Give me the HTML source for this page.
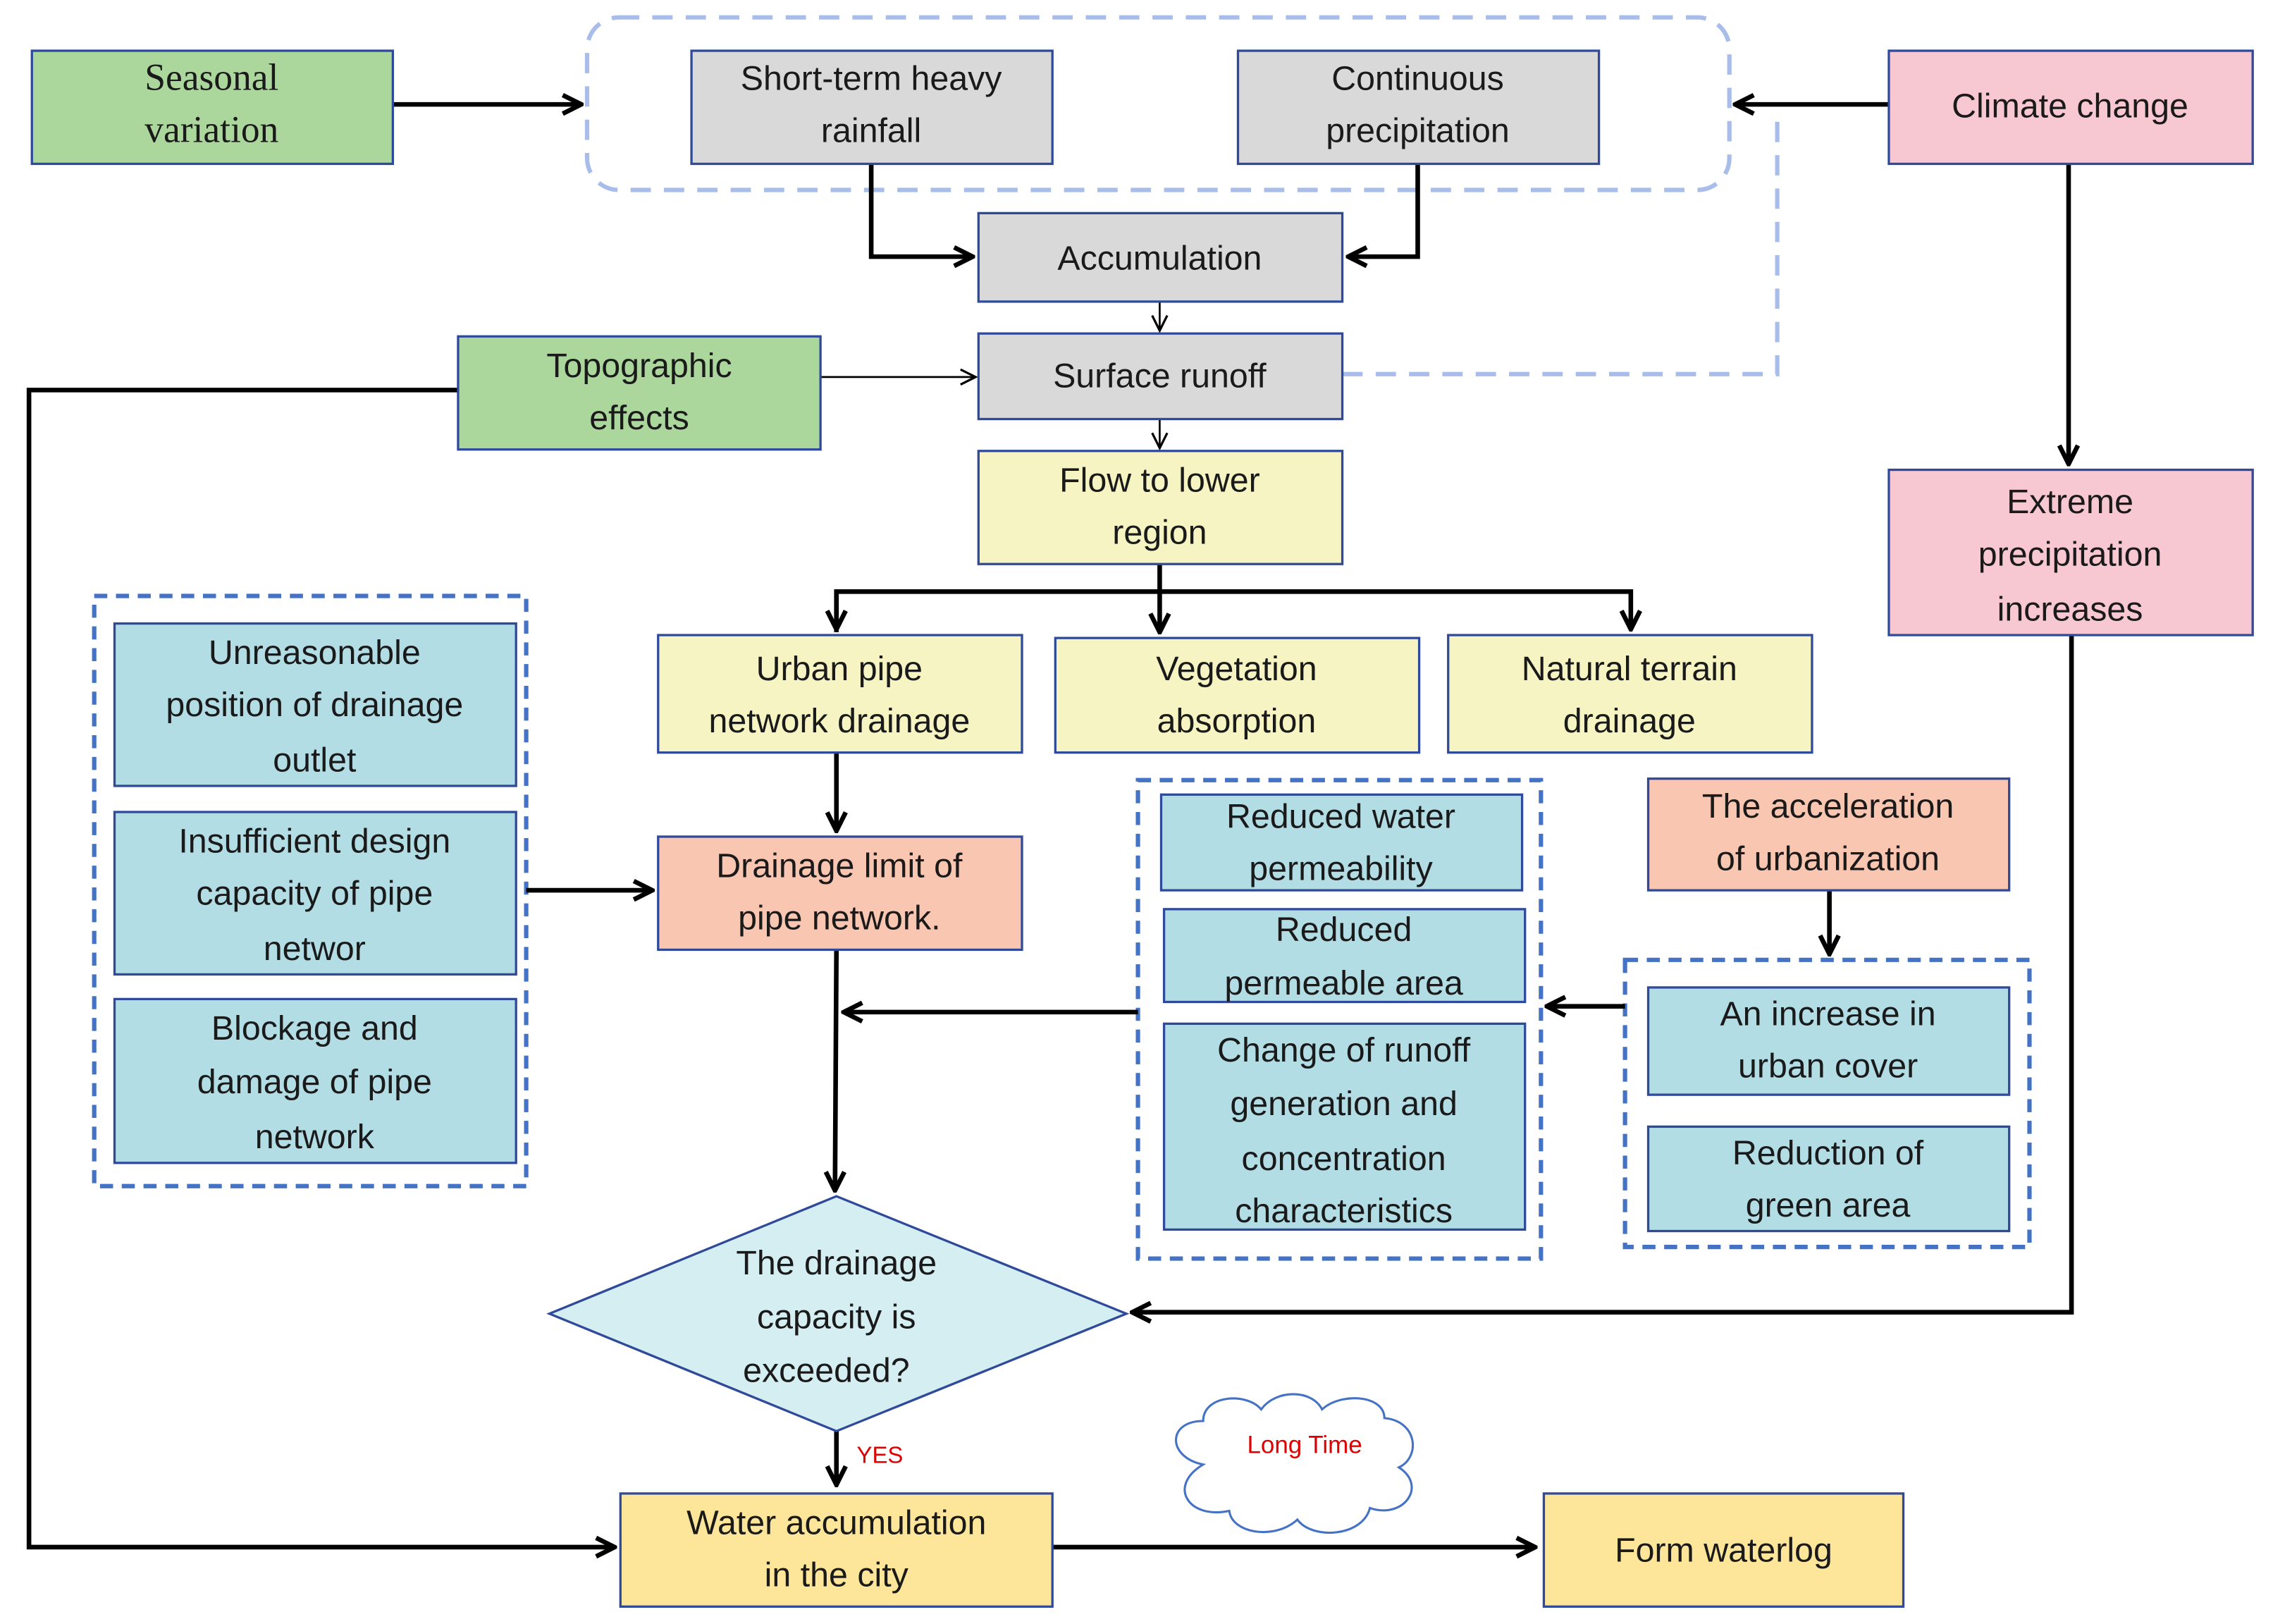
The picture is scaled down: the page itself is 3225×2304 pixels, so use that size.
<!DOCTYPE html>
<html><head><meta charset="utf-8"><style>
html,body{margin:0;padding:0;background:#fff;}
svg{display:block;}
text{font-family:"Liberation Sans",sans-serif;font-size:23.5px;fill:#1a1a1a;text-anchor:middle;}
.b{stroke:#2f4a9a;stroke-width:1.6;}
.ar{stroke:#000;stroke-width:3.2;fill:none;}
.th{stroke:#000;stroke-width:1.3;fill:none;}
</style></head><body>
<svg width="3225" height="2304" viewBox="0 0 1568 1120" preserveAspectRatio="none" xmlns="http://www.w3.org/2000/svg">
<defs>
<marker id="a" viewBox="0 0 10 10" refX="9" refY="5" markerWidth="5" markerHeight="5" orient="auto"><path d="M1 1 L9 5 L1 9" fill="none" stroke="#000" stroke-width="2"/></marker>
<marker id="t" viewBox="0 0 10 10" refX="9" refY="5" markerWidth="10" markerHeight="10" orient="auto"><path d="M1 1 L9 5 L1 9" fill="none" stroke="#000" stroke-width="1.2"/></marker>
</defs>
<rect width="1568" height="1120" fill="#fff"/>
<rect x="405" y="12" width="788" height="119" rx="22" fill="none" stroke="#a8bde9" stroke-width="3" stroke-dasharray="14,9"/>
<path d="M926 258 H1226 V80" fill="none" stroke="#a8bde9" stroke-width="3" stroke-dasharray="14,9"/>
<rect x="65" y="411" width="298" height="407" fill="none" stroke="#4472c4" stroke-width="3" stroke-dasharray="9,6"/>
<rect x="785" y="538" width="278" height="330" fill="none" stroke="#4472c4" stroke-width="3" stroke-dasharray="9,6"/>
<rect x="1121" y="662" width="279" height="198" fill="none" stroke="#4472c4" stroke-width="3" stroke-dasharray="9,6"/>

<path class="ar" d="M271 72 H401" marker-end="url(#a)"/>
<path class="ar" d="M1303 72 H1197" marker-end="url(#a)"/>
<path class="ar" d="M601 113 V177 H671" marker-end="url(#a)"/>
<path class="ar" d="M978 113 V177 H930" marker-end="url(#a)"/>
<path class="th" d="M800 208 V228" marker-end="url(#t)"/>
<path class="th" d="M566 260 H673" marker-end="url(#t)"/>
<path class="th" d="M800 289 V309" marker-end="url(#t)"/>
<path class="ar" d="M316 269 H20 V1067 H424" marker-end="url(#a)"/>
<path class="ar" d="M800 389 V436"  marker-end="url(#a)"/>
<path class="ar" d="M577 436 V408 H1125 V434" marker-end="url(#a)"/>
<path class="ar" d="M577 408 V434" marker-end="url(#a)"/>
<path class="ar" d="M1427 113 V320" marker-end="url(#a)"/>
<path class="ar" d="M577 519 V573" marker-end="url(#a)"/>
<path class="ar" d="M363 614 H450" marker-end="url(#a)"/>
<path class="ar" d="M577 655 L576 821" marker-end="url(#a)"/>
<path class="ar" d="M785 698 H582" marker-end="url(#a)"/>
<path class="ar" d="M1262 614 V658" marker-end="url(#a)"/>
<path class="ar" d="M1121 694 H1067" marker-end="url(#a)"/>
<path class="ar" d="M1429 438 V905 H781" marker-end="url(#a)"/>
<path class="ar" d="M577 987 V1024" marker-end="url(#a)"/>
<path class="ar" d="M726 1067 H1059" marker-end="url(#a)"/>
<text x="607" y="1009" style="font-size:16px;fill:#e00000">YES</text>

<rect class="b" x="22" y="35" width="249" height="78" fill="#acd79c"/>
<text x="146" y="62" style="font-family:'Liberation Serif',serif;font-size:26px">Seasonal</text>
<text x="146" y="98" style="font-family:'Liberation Serif',serif;font-size:26px">variation</text>

<rect class="b" x="477" y="35" width="249" height="78" fill="#d9d9d9"/>
<text x="601" y="62">Short-term heavy</text><text x="601" y="98">rainfall</text>
<rect class="b" x="854" y="35" width="249" height="78" fill="#d9d9d9"/>
<text x="978" y="62">Continuous</text><text x="978" y="98">precipitation</text>
<rect class="b" x="1303" y="35" width="251" height="78" fill="#f8c8d2"/>
<text x="1428" y="81">Climate change</text>

<rect class="b" x="675" y="147" width="251" height="61" fill="#d9d9d9"/>
<text x="800" y="186">Accumulation</text>
<rect class="b" x="675" y="230" width="251" height="59" fill="#d9d9d9"/>
<text x="800" y="267">Surface runoff</text>
<rect class="b" x="316" y="232" width="250" height="78" fill="#acd79c"/>
<text x="441" y="260">Topographic</text><text x="441" y="296">effects</text>
<rect class="b" x="675" y="311" width="251" height="78" fill="#f6f4c2"/>
<text x="800" y="339">Flow to lower</text><text x="800" y="375">region</text>

<rect class="b" x="1303" y="324" width="251" height="114" fill="#f8c8d2"/>
<text x="1428" y="354">Extreme</text><text x="1428" y="390">precipitation</text><text x="1428" y="428">increases</text>

<rect class="b" x="454" y="438" width="251" height="81" fill="#f6f4c2"/>
<text x="579" y="469">Urban pipe</text><text x="579" y="505">network drainage</text>
<rect class="b" x="728" y="440" width="251" height="79" fill="#f6f4c2"/>
<text x="853" y="469">Vegetation</text><text x="853" y="505">absorption</text>
<rect class="b" x="999" y="438" width="251" height="81" fill="#f6f4c2"/>
<text x="1124" y="469">Natural terrain</text><text x="1124" y="505">drainage</text>

<rect class="b" x="79" y="430" width="277" height="112" fill="#b3dde5"/>
<text x="217" y="458">Unreasonable</text><text x="217" y="494">position of drainage</text><text x="217" y="532">outlet</text>
<rect class="b" x="79" y="560" width="277" height="112" fill="#b3dde5"/>
<text x="217" y="588">Insufficient design</text><text x="217" y="624">capacity of pipe</text><text x="217" y="662">networ</text>
<rect class="b" x="79" y="689" width="277" height="113" fill="#b3dde5"/>
<text x="217" y="717">Blockage and</text><text x="217" y="754">damage of pipe</text><text x="217" y="792">network</text>

<rect class="b" x="454" y="577" width="251" height="78" fill="#f9c6b2"/>
<text x="579" y="605">Drainage limit of</text><text x="579" y="641">pipe network.</text>

<rect class="b" x="801" y="548" width="249" height="66" fill="#b3dde5"/>
<text x="925" y="571">Reduced water</text><text x="925" y="607">permeability</text>
<rect class="b" x="803" y="627" width="249" height="64" fill="#b3dde5"/>
<text x="927" y="649">Reduced</text><text x="927" y="686">permeable area</text>
<rect class="b" x="803" y="706" width="249" height="142" fill="#b3dde5"/>
<text x="927" y="732">Change of runoff</text><text x="927" y="769">generation and</text><text x="927" y="807">concentration</text><text x="927" y="843">characteristics</text>

<rect class="b" x="1137" y="537" width="249" height="77" fill="#f9c6b2"/>
<text x="1261" y="564">The acceleration</text><text x="1261" y="600">of urbanization</text>
<rect class="b" x="1137" y="681" width="249" height="74" fill="#b3dde5"/>
<text x="1261" y="707">An increase in</text><text x="1261" y="743">urban cover</text>
<rect class="b" x="1137" y="777" width="249" height="72" fill="#b3dde5"/>
<text x="1261" y="803">Reduction of</text><text x="1261" y="839">green area</text>

<polygon class="b" points="577,825 777,906 577,987 379,906" fill="#d5eef1"/>
<text x="577" y="879">The drainage</text><text x="577" y="916">capacity is</text><text x="570" y="953">exceeded?</text>

<rect class="b" x="428" y="1030" width="298" height="78" fill="#fde59a"/>
<text x="577" y="1058">Water accumulation</text><text x="577" y="1094">in the city</text>
<rect class="b" x="1065" y="1030" width="248" height="78" fill="#fde59a"/>
<text x="1189" y="1077">Form waterlog</text>

<path d="M830 1010 C805 1005 805 980 830 980 C830 962 860 960 870 972 C880 958 905 958 912 972 C925 960 955 962 955 978 C978 980 980 1005 965 1012 C985 1025 968 1048 945 1040 C940 1060 905 1062 895 1048 C880 1062 850 1058 848 1042 C820 1048 805 1025 830 1010 Z" fill="#fff" stroke="#4472c4" stroke-width="1.5"/>
<text x="900" y="1002" style="font-size:17px;fill:#e00000">Long Time</text>
</svg>
</body></html>
